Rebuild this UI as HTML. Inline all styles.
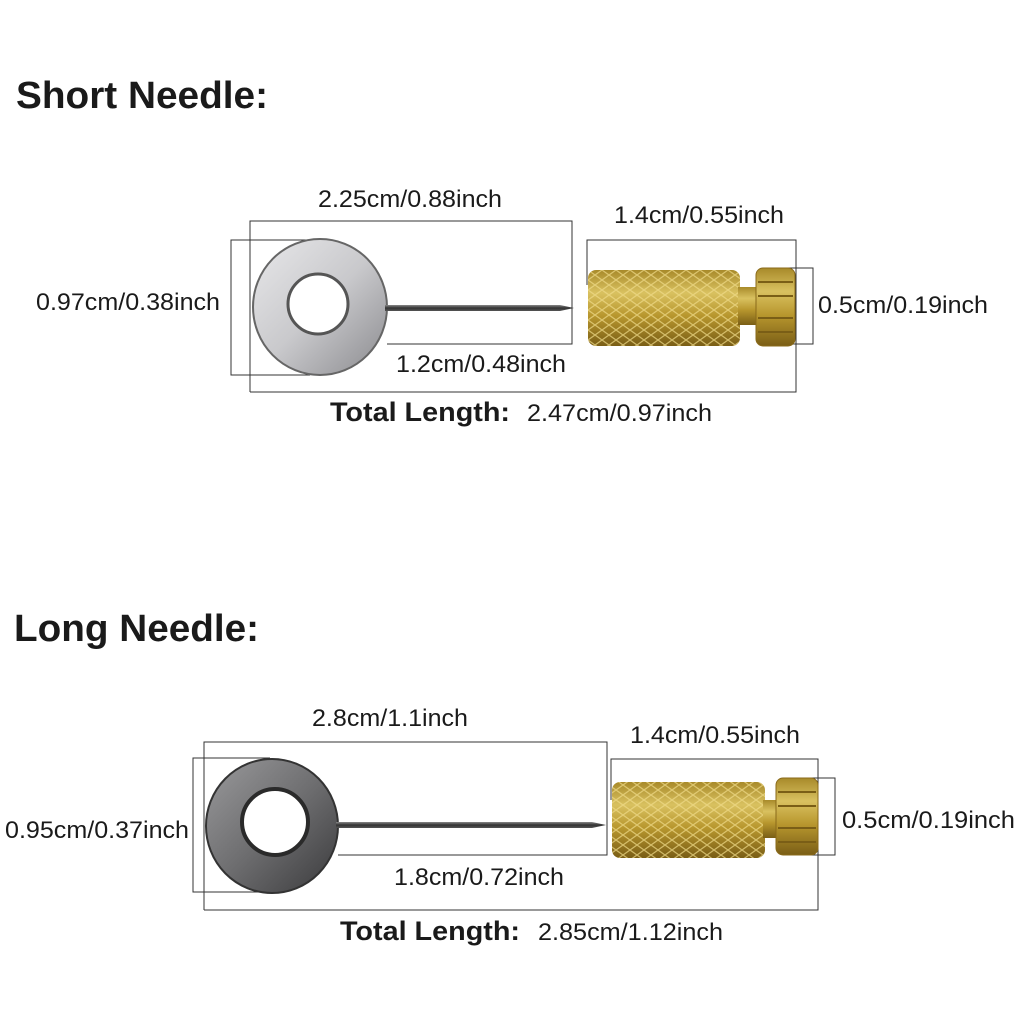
<!DOCTYPE html>
<html><head><meta charset="utf-8"><style>
html,body{margin:0;padding:0;background:#fff}
svg{display:block}
text{font-family:"Liberation Sans",sans-serif;fill:#1a1a1a}
</style></head><body>
<svg width="1024" height="1024" viewBox="0 0 1024 1024" xmlns="http://www.w3.org/2000/svg">
<defs>
<linearGradient id="silver" x1="0" y1="0" x2="1" y2="1">
<stop offset="0" stop-color="#e8e8ea"/><stop offset="0.5" stop-color="#c9c9cc"/><stop offset="1" stop-color="#8a8a8e"/></linearGradient>
<linearGradient id="dark" x1="0" y1="0" x2="1" y2="1">
<stop offset="0" stop-color="#9a9a9c"/><stop offset="0.5" stop-color="#6e6e70"/><stop offset="1" stop-color="#3a3a3c"/></linearGradient>
<linearGradient id="brass" x1="0" y1="0" x2="0" y2="1">
<stop offset="0" stop-color="#a88a2a"/><stop offset="0.3" stop-color="#d9c160"/><stop offset="0.6" stop-color="#b8972e"/><stop offset="1" stop-color="#7a5e16"/></linearGradient>
<pattern id="knurl" width="14" height="10" patternUnits="userSpaceOnUse">
<path d="M0 0 L14 10 M14 0 L0 10" stroke="#f0dc8a" stroke-width="1.2" opacity="0.7"/></pattern>
<linearGradient id="needle" x1="0" y1="0" x2="0" y2="1">
<stop offset="0" stop-color="#888"/><stop offset="0.5" stop-color="#333"/><stop offset="1" stop-color="#555"/></linearGradient>
</defs>

<g font-size="24">
<!-- SHORT NEEDLE -->
<text x="16" y="108" font-size="38" font-weight="bold" fill="#2a2a2a" textLength="252" lengthAdjust="spacingAndGlyphs">Short Needle:</text>
<g fill="none" stroke="#333" stroke-width="1">
<path d="M250 392 V221 H572 V344 H387"/>
<path d="M250 392 H796 V240 H587 V285"/>
<path d="M312 240 H231 V375 H310"/>
<path d="M782 268 H813 V344 H782"/>
</g>
<ellipse cx="320" cy="307" rx="67" ry="68" fill="url(#silver)" stroke="#666" stroke-width="2"/>
<circle cx="318" cy="304" r="30" fill="#fff" stroke="#555" stroke-width="3"/>
<path d="M385 305 H560 L574 308 L560 311 H385 Z" fill="url(#needle)"/>
<rect x="588" y="270" width="152" height="76" rx="8" fill="url(#brass)"/>
<rect x="588" y="270" width="152" height="76" rx="8" fill="url(#knurl)"/>
<rect x="738" y="287" width="22" height="38" fill="url(#brass)"/>
<rect x="756" y="268" width="39" height="78" rx="7" fill="url(#brass)" stroke="#8a6a1a" stroke-width="1"/>
<g stroke="#7a5e16" stroke-width="2"><line x1="758" y1="282" x2="793" y2="282"/><line x1="758" y1="296" x2="793" y2="296"/><line x1="758" y1="318" x2="793" y2="318"/><line x1="758" y1="332" x2="793" y2="332"/></g>

<text x="318" y="207" textLength="184" lengthAdjust="spacingAndGlyphs">2.25cm/0.88inch</text>
<text x="614" y="223" textLength="170" lengthAdjust="spacingAndGlyphs">1.4cm/0.55inch</text>
<text x="36" y="310" textLength="184" lengthAdjust="spacingAndGlyphs">0.97cm/0.38inch</text>
<text x="818" y="313" textLength="170" lengthAdjust="spacingAndGlyphs">0.5cm/0.19inch</text>
<text x="396" y="372" textLength="170" lengthAdjust="spacingAndGlyphs">1.2cm/0.48inch</text>
<text x="330" y="421" font-size="27" font-weight="bold" fill="#2a2a2a" textLength="180" lengthAdjust="spacingAndGlyphs">Total Length:</text>
<text x="527" y="421" textLength="185" lengthAdjust="spacingAndGlyphs">2.47cm/0.97inch</text>

<!-- LONG NEEDLE -->
<text x="14" y="641" font-size="38" font-weight="bold" fill="#2a2a2a" textLength="245" lengthAdjust="spacingAndGlyphs">Long Needle:</text>
<g fill="none" stroke="#333" stroke-width="1">
<path d="M204 910 V742 H607 V855 H338"/>
<path d="M204 910 H818 V759 H611 V800"/>
<path d="M270 758 H193 V892 H262"/>
<path d="M800 778 H835 V855 H800"/>
</g>
<ellipse cx="272" cy="826" rx="66" ry="67" fill="url(#dark)" stroke="#333" stroke-width="2"/>
<circle cx="275" cy="822" r="33" fill="#fff" stroke="#2a2a2a" stroke-width="4"/>
<path d="M336 822 H592 L606 825 L592 828 H336 Z" fill="url(#needle)"/>
<rect x="612" y="782" width="153" height="76" rx="8" fill="url(#brass)"/>
<rect x="612" y="782" width="153" height="76" rx="8" fill="url(#knurl)"/>
<rect x="763" y="800" width="16" height="38" fill="url(#brass)"/>
<rect x="776" y="778" width="42" height="77" rx="7" fill="url(#brass)" stroke="#8a6a1a" stroke-width="1"/>
<g stroke="#7a5e16" stroke-width="2"><line x1="778" y1="792" x2="816" y2="792"/><line x1="778" y1="806" x2="816" y2="806"/><line x1="778" y1="828" x2="816" y2="828"/><line x1="778" y1="842" x2="816" y2="842"/></g>

<text x="312" y="726" textLength="156" lengthAdjust="spacingAndGlyphs">2.8cm/1.1inch</text>
<text x="630" y="743" textLength="170" lengthAdjust="spacingAndGlyphs">1.4cm/0.55inch</text>
<text x="5" y="838" textLength="184" lengthAdjust="spacingAndGlyphs">0.95cm/0.37inch</text>
<text x="842" y="828" textLength="173" lengthAdjust="spacingAndGlyphs">0.5cm/0.19inch</text>
<text x="394" y="885" textLength="170" lengthAdjust="spacingAndGlyphs">1.8cm/0.72inch</text>
<text x="340" y="940" font-size="27" font-weight="bold" fill="#2a2a2a" textLength="180" lengthAdjust="spacingAndGlyphs">Total Length:</text>
<text x="538" y="940" textLength="185" lengthAdjust="spacingAndGlyphs">2.85cm/1.12inch</text>
</g>
</svg>
</body></html>
